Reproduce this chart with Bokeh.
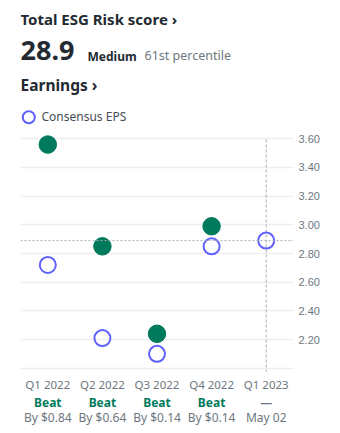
from bokeh.plotting import figure
from bokeh.layouts import column
from bokeh.models import (FactorRange, Range1d, FixedTicker, Span, NumeralTickFormatter)
from bokeh.core.properties import value
from bokeh.embed import file_html
from bokeh.resources import INLINE

quarters = ["Q1 2022", "Q2 2022", "Q3 2022", "Q4 2022", "Q1 2023"]
actual_q = ["Q1 2022", "Q2 2022", "Q3 2022", "Q4 2022"]
actual_eps = [3.56, 2.85, 2.24, 2.99]
consensus_eps = [2.72, 2.21, 2.10, 2.85, 2.89]
result_text = ["Beat", "Beat", "Beat", "Beat", "—"]
detail_text = ["By $0.84", "By $0.64", "By $0.14", "By $0.14", "May 02"]
y_ticks = [2.2, 2.4, 2.6, 2.8, 3.0, 3.2, 3.4, 3.6]
grid_ticks = [2.0, 2.2, 2.4, 2.6, 2.8, 3.0, 3.2, 3.4, 3.6]
esg_score = "28.9"
esg_level = "Medium"
esg_pct = "61st percentile"

GREEN = "#007A5C"
BLUE = "#6060FF"
GREY = "#6E7780"
DARK = "#232A31"
FONT = "Noto Sans"
W = 340
L, R = 20, 47          # frame margins shared by all three rows
FX0, FX1 = L, W - R    # frame pixel extent

def bare(fig):
    fig.outline_line_color = None
    fig.xgrid.visible = False
    fig.ygrid.visible = False
    return fig

def bl(y, size):
    # compensate baseline placement of the renderer
    return y - 0.37 * size

# ---------- header ----------
HH = 128
h = bare(figure(width=W, height=HH, x_range=Range1d(FX0, FX1), y_range=Range1d(HH, 0),
                output_backend="svg", toolbar_location=None, x_axis_location=None,
                y_axis_location=None, min_border_left=L, min_border_right=R,
                min_border_top=0, min_border_bottom=0))

def htext(x, y, t, size, color=DARK, style="normal"):
    h.text(x=[x], y=[bl(y, size)], text=[t], text_font=value(FONT),
           text_font_size=f"{size}px", text_color=color, text_font_style=style,
           text_baseline="alphabetic", text_align="left")

htext(20, 24, "Total ESG Risk score ›", 15, style="bold")
htext(20, 60, esg_score, 27, style="bold")
htext(87, 60, esg_level, 12, style="bold")
htext(144, 60, esg_pct, 12.5, color=GREY)
htext(20, 90.5, "Earnings ›", 15.5, style="bold")
h.scatter(x=[28.3], y=[116.7], size=12, fill_color="white", line_color=BLUE, line_width=2)
htext(41, 120.7, "Consensus EPS", 12, color="#464E56")

# ---------- chart ----------
CH = 372 - HH
p = figure(width=W, height=CH, x_range=FactorRange(*quarters),
           y_range=Range1d(1.970, 3.672), output_backend="svg", toolbar_location=None,
           y_axis_location="right", x_axis_location=None, min_border_left=L,
           min_border_right=R, min_border_top=0, min_border_bottom=0)
p.outline_line_color = None
p.xgrid.visible = False
p.ygrid.ticker = FixedTicker(ticks=grid_ticks)
p.ygrid.grid_line_color = "#EDEEF0"
p.ygrid.grid_line_width = 1.5

ya = p.yaxis[0]
ya.ticker = FixedTicker(ticks=y_ticks)
ya.formatter = NumeralTickFormatter(format="0.00")
ya.axis_line_color = None
ya.major_tick_line_color = None
ya.minor_tick_line_color = None
ya.major_tick_out = 0
ya.major_label_standoff = 5
ya.major_label_text_color = GREY
ya.major_label_text_font = "Liberation Sans"
ya.major_label_text_font_size = "11px"

p.add_layout(Span(location=consensus_eps[-1], dimension="width", line_color="#A8ACB0",
                  line_dash="2 2", line_width=1))
p.segment(x0=[quarters[-1]], x1=[quarters[-1]], y0=[p.y_range.start], y1=[y_ticks[-1]],
          line_color="#A8ACB0", line_dash="3 2", line_width=1)

p.scatter(x=actual_q, y=actual_eps, size=17.5, fill_color=GREEN, line_color=GREEN)
p.scatter(x=quarters, y=consensus_eps, size=16, fill_color=None,
          line_color=BLUE, line_width=2)

# ---------- footer ----------
FH = 433 - 372
f = bare(figure(width=W, height=FH, x_range=p.x_range, y_range=Range1d(FH, 0),
                output_backend="svg", toolbar_location=None, x_axis_location=None,
                y_axis_location=None, min_border_left=L, min_border_right=R,
                min_border_top=0, min_border_bottom=0))
f.text(x=quarters, y=[bl(16, 11.5)] * 5, text=quarters, text_font=value(FONT),
       text_font_size="11.5px", text_color=GREY, text_align="center",
       text_baseline="alphabetic")
f.text(x=quarters, y=[bl(34.7, 12)] * 5, text=result_text, text_font=value(FONT),
       text_font_size="12px", text_font_style="bold",
       text_color=[GREEN] * 4 + [GREY], text_align="center", text_baseline="alphabetic")
f.text(x=quarters, y=[bl(49, 12)] * 5, text=detail_text, text_font=value(FONT),
       text_font_size="12px", text_color=GREY, text_align="center",
       text_baseline="alphabetic")

layout = column(h, p, f, spacing=0)
open("out.html", "w").write(file_html(layout, INLINE))
